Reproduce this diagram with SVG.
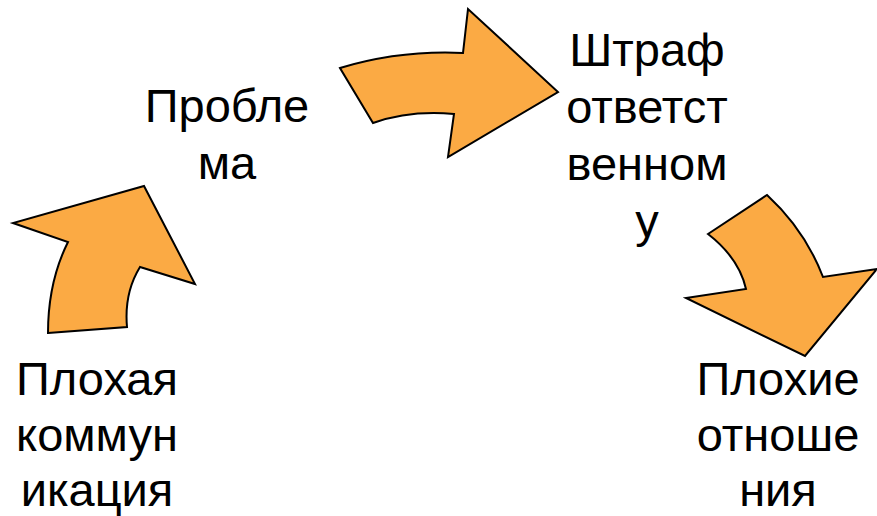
<svg xmlns="http://www.w3.org/2000/svg" width="877" height="516" viewBox="0 0 877 516">
<style>
.arrow{fill:#FBAA44;stroke:#000;stroke-width:2;stroke-linejoin:miter}
.lbl{font-family:"Liberation Sans",Arial,sans-serif;font-size:47px;fill:#000;text-anchor:middle}
</style>
<rect width="877" height="516" fill="#fff"/>
<g id="connectors">
<path id="arrow1" class="arrow" d="M48,333 L127,327 Q124,293 140,267 L195,284 L144,186 L13,223 L68,242 Q48,282 48,333 Z"/>
<path id="arrow2" class="arrow" d="M340,68 Q400,50 463,53 L468,9 L558,92 L448,157 L454,114 Q410,110 373,123 Z"/>
<path id="arrow3" class="arrow" d="M708,234 L767,195 Q805,230 823,277 L877,269 L805,356 L686,298 L746,289 Q739,258 708,234 Z"/>
</g>
<g id="node-problem">
<text class="lbl" x="227" y="122">Пробле</text>
<text class="lbl" x="227" y="179">ма</text>
</g>
<g id="node-penalty">
<text class="lbl" x="647" y="66">Штраф</text>
<text class="lbl" x="647" y="123">ответст</text>
<text class="lbl" x="647" y="180">венном</text>
<text class="lbl" x="647" y="237">у</text>
</g>
<g id="node-communication">
<text class="lbl" x="97" y="395">Плохая</text>
<text class="lbl" x="97" y="451">коммун</text>
<text class="lbl" x="97" y="506">икация</text>
</g>
<g id="node-relations">
<text class="lbl" x="778" y="395">Плохие</text>
<text class="lbl" x="778" y="451">отноше</text>
<text class="lbl" x="778" y="506">ния</text>
</g>
</svg>
